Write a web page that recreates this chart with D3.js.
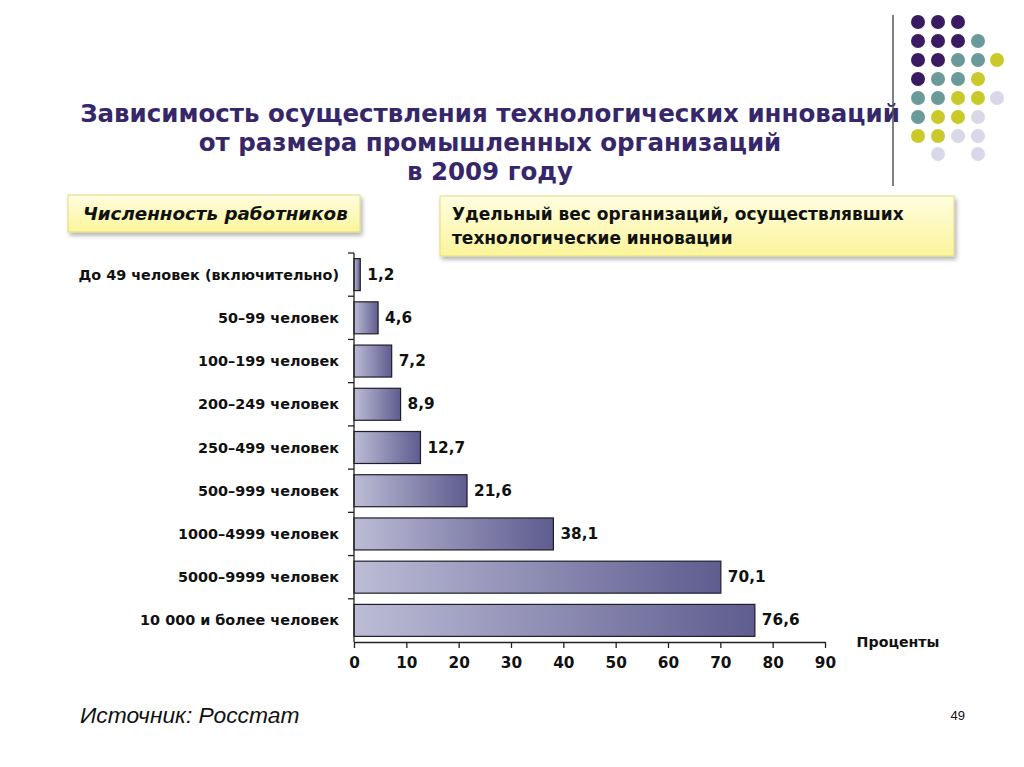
<!DOCTYPE html>
<html><head><meta charset="utf-8">
<script src="https://cdn.jsdelivr.net/npm/d3@7"></script>
<style>body{margin:0;background:#fff}svg{display:block}</style>
</head><body>
<script>
const categories = ["До 49 человек (включительно)","50–99 человек","100–199 человек","200–249 человек","250–499 человек","500–999 человек","1000–4999 человек","5000–9999 человек","10 000 и более человек"];
const values = [1.2, 4.6, 7.2, 8.9, 12.7, 21.6, 38.1, 70.1, 76.6];
const xTicks = [0,10,20,30,40,50,60,70,80,90];
const titleLines = ["Зависимость осуществления технологических инноваций","от размера промышленных организаций","в 2009 году"];
const dotRows = [["P","P","P"],["P","P","P","T"],["P","P","T","T","Y"],["P","T","T","Y"],["T","T","Y","Y","L"],["T","Y","Y","L"],["Y","Y","L","L"],[null,"L",null,"L"]];
const dotColors = {P:"#3a1a60",T:"#6b9a9a",Y:"#c9c92a",L:"#d8d8e8"};

const W=1024,H=767;
const svg=d3.select("body").append("svg").attr("width",W).attr("height",H);
const defs=svg.append("defs");
const g1=defs.append("linearGradient").attr("id","barg").attr("x1","0").attr("x2","1").attr("y1","0").attr("y2","0");
g1.append("stop").attr("offset","0").attr("stop-color","#bcbcd6");
g1.append("stop").attr("offset","1").attr("stop-color","#5f5c8f");
const g2=defs.append("linearGradient").attr("id","boxg").attr("x1","0").attr("x2","0").attr("y1","0").attr("y2","1");
g2.append("stop").attr("offset","0").attr("stop-color","#fffde0");
g2.append("stop").attr("offset","1").attr("stop-color","#fbf59a");
const f=defs.append("filter").attr("id","sh").attr("x","-10%").attr("y","-20%").attr("width","120%").attr("height","160%");
f.append("feDropShadow").attr("dx",2).attr("dy",3).attr("stdDeviation",2).attr("flood-color","#000").attr("flood-opacity",0.3);

// Title
svg.append("g").selectAll("text").data(titleLines).join("text")
 .attr("x",490).attr("y",(d,i)=>122+i*29).attr("text-anchor","middle")
 .attr("font-family","DejaVu Sans, sans-serif").attr("font-weight","bold").attr("font-size",24.5)
 .attr("fill","#36266a").text(d=>d);

// Decoration
svg.append("line").attr("x1",893).attr("x2",893).attr("y1",15).attr("y2",186).attr("stroke","#555").attr("stroke-width",1.5);
const colX=[918,938,958,978,997], rowY=[22,41,60,79,98,117,136,154];
dotRows.forEach((r,i)=>r.forEach((c,j)=>{ if(c) svg.append("circle").attr("cx",colX[j]).attr("cy",rowY[i]).attr("r",7).attr("fill",dotColors[c]); }));

// Boxes
function box(x,y,w,h,lines,italic){
  svg.append("rect").attr("x",x).attr("y",y).attr("width",w).attr("height",h).attr("fill","url(#boxg)").attr("stroke","#e2da80").attr("stroke-width",1).attr("filter","url(#sh)");
  lines.forEach((t,i)=>svg.append("text").attr("x",x+ (italic?15:12)).attr("y",y+(italic?25:24)+i*24)
    .attr("font-family","DejaVu Sans, sans-serif").attr("font-weight","bold").attr("font-style",italic?"italic":"normal")
    .attr("font-size",italic?18.3:17).attr("fill","#111").text(t));
}
box(68,195,292,37,["Численность работников"],true);
box(440,196,514,60,["Удельный вес организаций, осуществлявших","технологические инновации"],false);

// Chart
const x=d3.scaleLinear().domain([0,90]).range([354,825]);
const y=d3.scaleBand().domain(categories).range([253,642]).paddingInner(0.26).paddingOuter(0.13);
const yEdges=d3.scaleLinear().domain([0,categories.length]).range([253,642]);

svg.append("g").selectAll("rect").data(values).join("rect")
 .attr("x",x(0)).attr("y",(d,i)=>y(categories[i])).attr("width",d=>x(d)-x(0)).attr("height",y.bandwidth())
 .attr("fill","url(#barg)").attr("stroke","#1e1e2a").attr("stroke-width",1.2);

svg.append("g").selectAll("text").data(values).join("text")
 .attr("x",d=>x(d)+7).attr("y",(d,i)=>y(categories[i])+y.bandwidth()/2+5)
 .attr("font-family","DejaVu Sans, sans-serif").attr("font-weight","bold").attr("font-size",15.3).attr("fill","#111")
 .text(d=>String(d).replace(".",","));

svg.append("g").selectAll("text").data(categories).join("text")
 .attr("x",339).attr("y",d=>y(d)+y.bandwidth()/2+5).attr("text-anchor","end")
 .attr("font-family","DejaVu Sans, sans-serif").attr("font-weight","bold").attr("font-size",14.4).attr("fill","#111").text(d=>d);

// y axis line + ticks at band edges
svg.append("line").attr("x1",354).attr("x2",354).attr("y1",253).attr("y2",642).attr("stroke","#222").attr("stroke-width",1.3);
svg.append("g").selectAll("line").data(d3.range(categories.length)).join("line")
 .attr("x1",348).attr("x2",354).attr("y1",i=>yEdges(i)).attr("y2",i=>yEdges(i)).attr("stroke","#222").attr("stroke-width",1.3);

// x axis
const xa=svg.append("g").attr("transform","translate(0,642)")
 .call(d3.axisBottom(x).tickValues(xTicks).tickSize(6).tickSizeOuter(0).tickPadding(9));
xa.select(".domain").attr("stroke","#222").attr("stroke-width",1.3);
xa.selectAll(".tick line").attr("stroke","#222").attr("stroke-width",1.3);
xa.selectAll(".tick text").attr("font-family","DejaVu Sans, sans-serif").attr("font-weight","bold").attr("font-size",15.3).attr("fill","#111");

svg.append("text").attr("x",898).attr("y",647).attr("text-anchor","middle")
 .attr("font-family","DejaVu Sans, sans-serif").attr("font-weight","bold").attr("font-size",14.2).attr("fill","#111").text("Проценты");

svg.append("text").attr("x",80).attr("y",723).attr("font-family","Liberation Sans, Arial, sans-serif").attr("font-style","italic").attr("font-size",22.8).attr("fill","#111").text("Источник: Росстат");
svg.append("text").attr("x",965).attr("y",720).attr("text-anchor","end").attr("font-family","Liberation Sans, Arial, sans-serif").attr("font-size",13).attr("fill","#111").text("49");
</script>
</body></html>
